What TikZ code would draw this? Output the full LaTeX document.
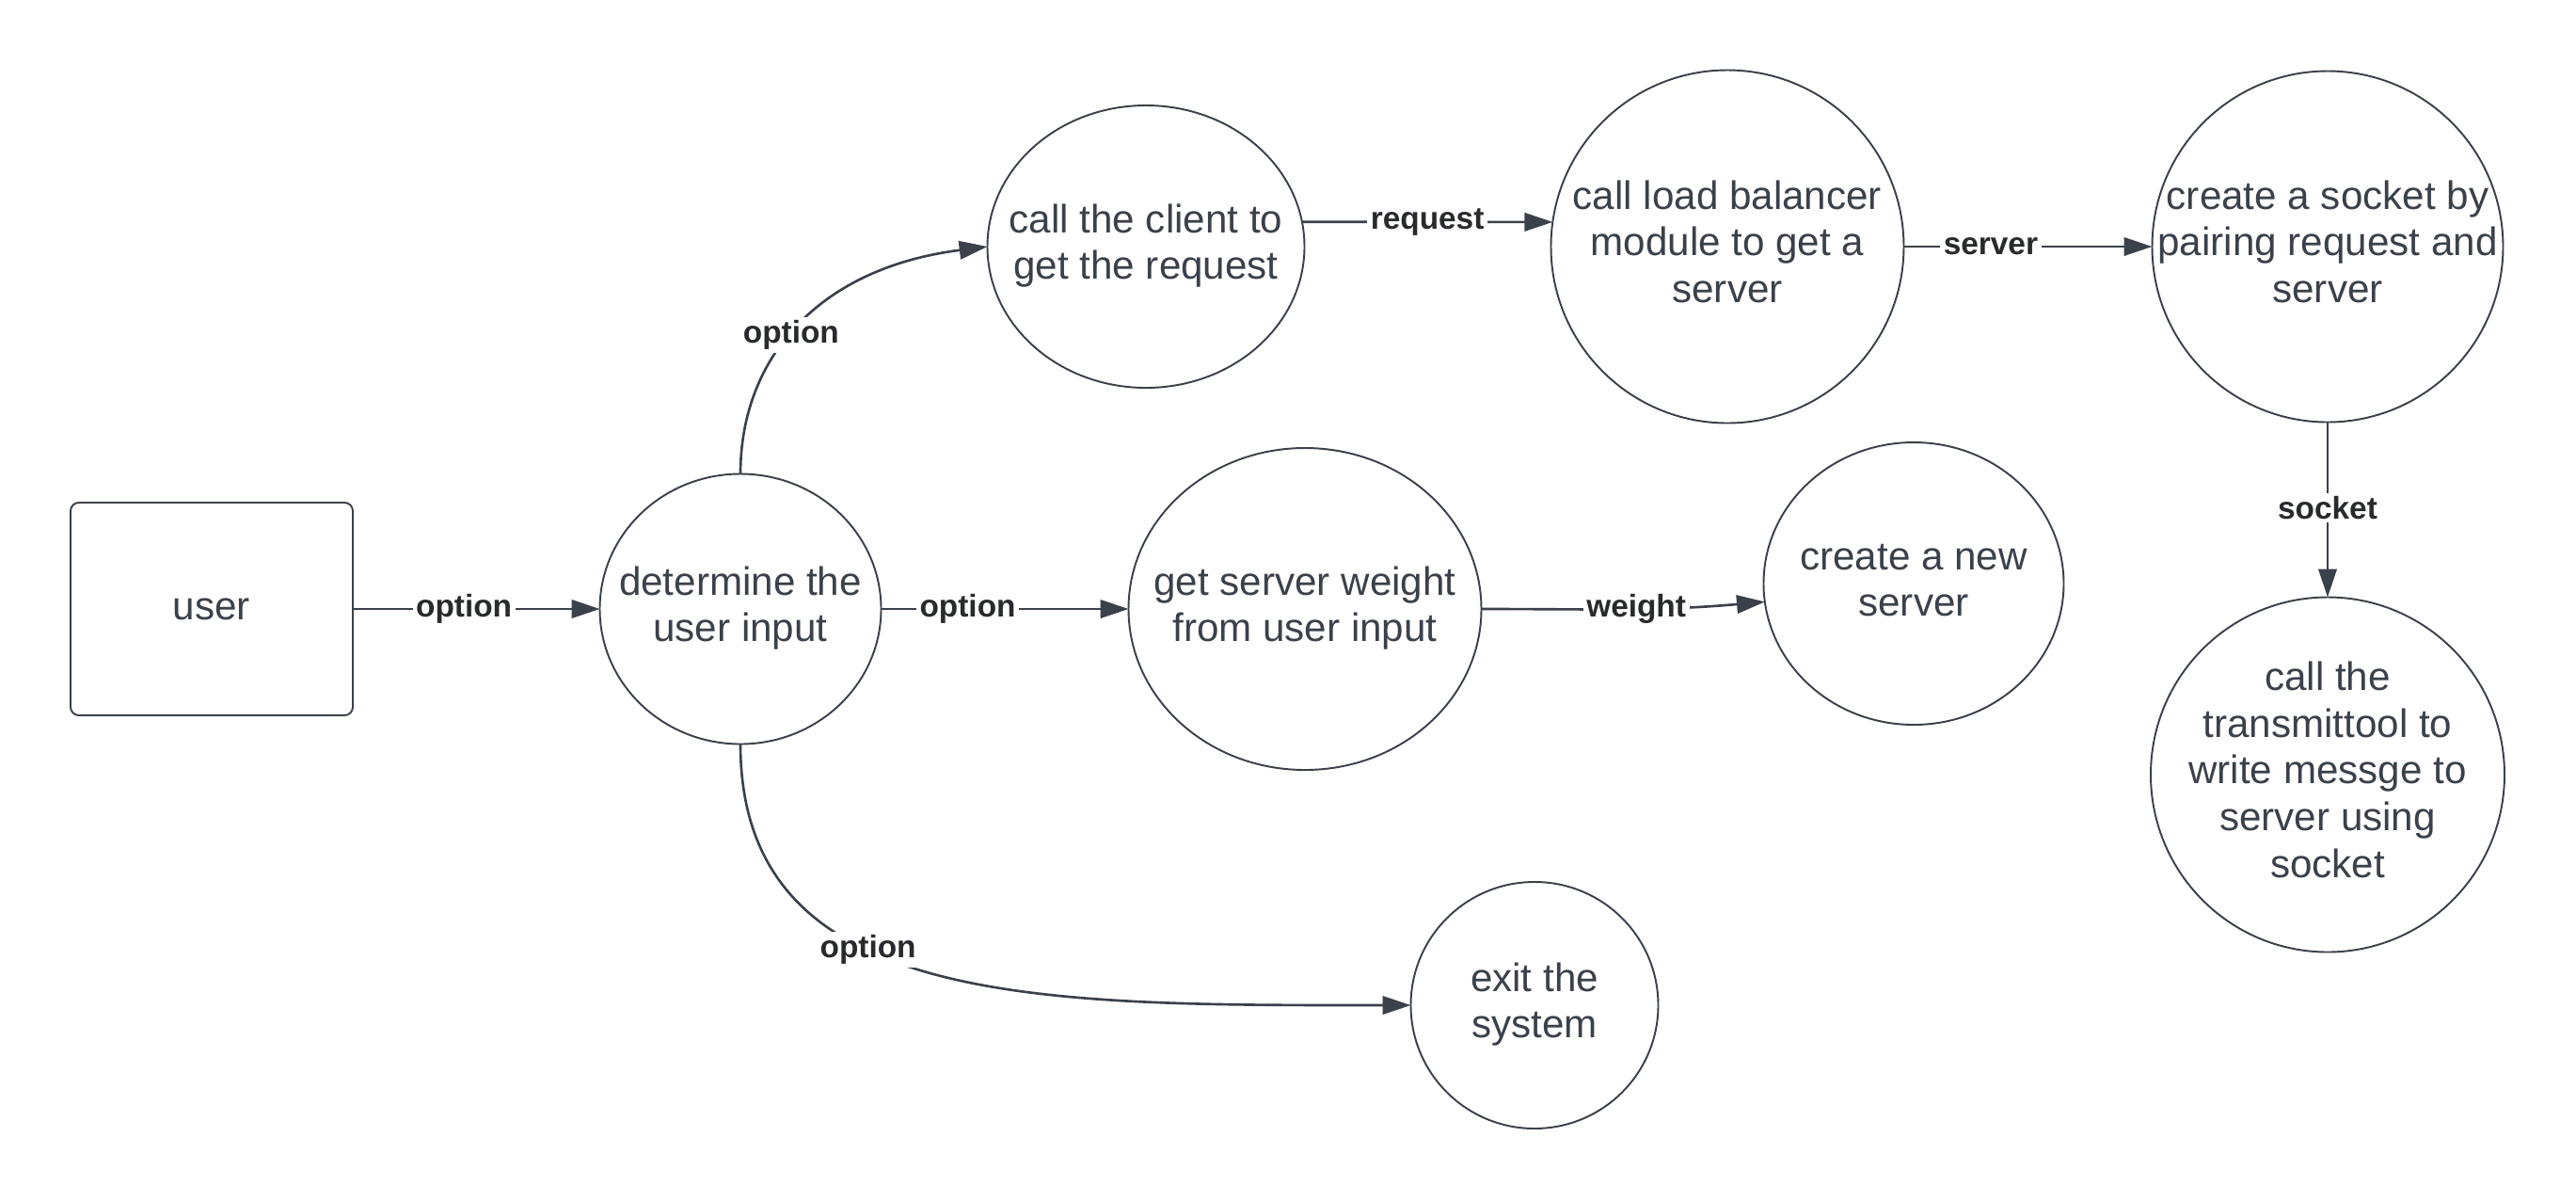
\documentclass[tikz,border=0pt]{standalone}
\usepackage{fontspec}
\setmainfont{Liberation Sans}
\usetikzlibrary{positioning}
\usetikzlibrary{shapes.geometric}
\usetikzlibrary{arrows.meta}
\tikzstyle{every link} = []
\tikzstyle{link} = [-{Triangle[length=8.5pt,width=5.5pt]}, draw=ink, line width=0.75pt, every link]
\tikzstyle{tag} = [fill=white, inner sep=1pt, text=tagink, font=\fontsize{9.5}{11}\selectfont\bfseries]
\definecolor{ink}{RGB}{58,65,74}
\definecolor{tagink}{RGB}{40,42,46}
\newcommand{\bubbletext}[1]{\makebox[0pt]{\begin{tabular}{@{}c@{}}#1\end{tabular}}}

\begin{document}
\begin{tikzpicture}[node distance=6em]
        \tikzstyle{every process} = [draw=ink, line width=0.55pt, text=ink, inner sep=0pt, outer sep=0pt]
        \tikzstyle{process} = [ellipse, font=\fontsize{12}{14.2}\selectfont, every process]
        \useasboundingbox (0,0) rectangle (27.38,-12.75);

        \node[process, rectangle, rounded corners=2.5pt, minimum width=3cm, minimum height=2.26cm] (user) at (2.25,-6.47) {user};
        \node[process, minimum width=2.99cm, minimum height=2.87cm] (determine) at (7.87,-6.47) {\bubbletext{determine the\\user input}};

        \node[process, minimum width=3.37cm, minimum height=3cm] (client) at (12.18,-2.62) {\bubbletext{call the client to\\get the request}};
        \node[process, minimum width=3.75cm, minimum height=3.75cm] (balancer) [right=2.62 of client] {\bubbletext{call load balancer\\module to get a\\server}};
        \node[process, minimum width=3.73cm, minimum height=3.73cm] (socket) [right=2.64 of balancer] {\bubbletext{create a socket by\\pairing request and\\server}};
        \node[process, minimum width=3.76cm, minimum height=3.77cm] (transmit) [below=1.86 of socket] {\bubbletext{call the\\transmittool to\\write messge to\\server using\\socket}};

        \node[process, minimum width=3.75cm, minimum height=3.42cm] (weight) at (13.87,-6.47) {\bubbletext{get server weight\\from user input}};
        \node[process, minimum width=3.19cm, minimum height=3cm] (newserver) at (20.34,-6.2) {\bubbletext{create a new\\server}};
        \node[process, minimum width=2.63cm, minimum height=2.62cm] (exit) at (16.31,-10.68) {\bubbletext{exit the\\system}};

        \draw[link] (user.east) -- node[tag, pos=0.45] {option} (determine.west);
        \draw[link] (determine.north) .. controls +(0,1.23) and +(-1.8,-0.23) .. node[tag, pos=0.46] {option} (client.west);
        \draw[link] (determine.east) -- node[tag, pos=0.35] {option} (weight.west);
        \draw[link] (determine.south) .. controls +(0,-2.8) and +(-4,0) .. node[tag, pos=0.4] {option} (exit.west);
        \draw[link] (client.9) -- node[tag] {request} (balancer.172);
        \draw[link] (balancer.east) -- node[tag, pos=0.35] {server} (socket.west);
        \draw[link] (socket.south) -- node[tag, pos=0.49] {socket} (transmit.north);
        \draw[link] (weight.east) to[out=0, in=185] node[tag, pos=0.55] {weight} (newserver.187);

    \end{tikzpicture}
\end{document}
